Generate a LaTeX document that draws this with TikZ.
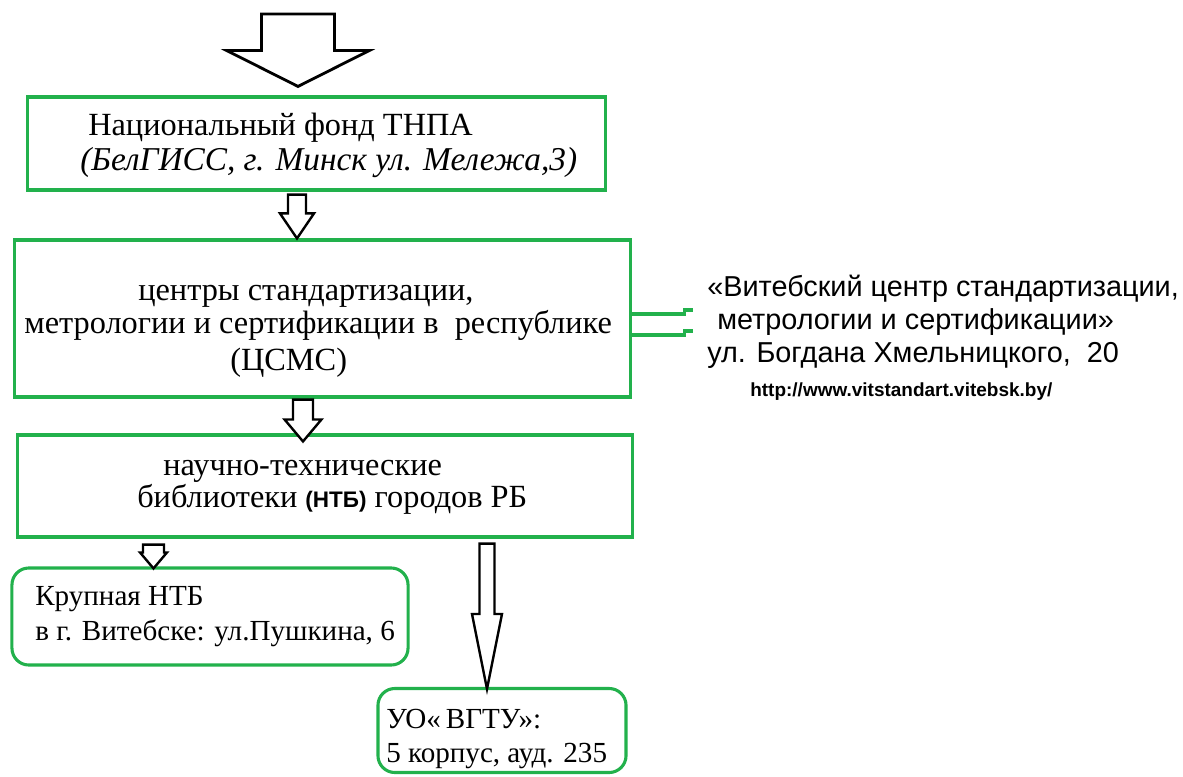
\documentclass[tikz,border=0pt]{standalone}
\usepackage{fontspec}
\setmainfont{Liberation Serif}
\newfontfamily\arialfont{Liberation Sans}
\usetikzlibrary{calc}
\definecolor{boxgreen}{RGB}{34,177,76}

% hollow block arrow pointing down: start, tip, half shaft, half head, head length
\newcommand{\fatdown}[5]{%
  \draw[hollow] ($(#1)+(-#3,0)$) -- ($(#2)+(-#3,-#5)$) -- ($(#2)+(-#4,-#5)$)
    -- (#2) -- ($(#2)+(#4,-#5)$) -- ($(#2)+(#3,-#5)$) -- ($(#1)+(#3,0)$) -- cycle;}

\begin{document}
\begin{tikzpicture}[x=0.025cm, y=-0.025cm,
    box/.style={draw=boxgreen, line width=2.2pt, inner sep=0pt},
    rbox/.style={box, rounded corners=12pt},
    hollow/.style={draw=black, fill=white, line width=1.7pt, line join=miter},
    link/.style={draw=boxgreen, line width=2.2pt},
    txt/.style={anchor=base west, inner sep=0pt, font=\fontsize{23}{28}\selectfont},
    stxt/.style={anchor=base west, inner sep=0pt, font=\fontsize{20.7}{25}\selectfont},
    atxt/.style={anchor=base west, inner sep=0pt, font=\arialfont\fontsize{20.5}{25}\selectfont}]
    \useasboundingbox (0,0) rectangle (1183,776);

    % boxes
    \node[box, minimum width=14.425cm, minimum height=2.325cm] (fond) at (316.5,143.5) {};
    \node[box, minimum width=15.375cm, minimum height=3.925cm] (csms) at (322.5,318.5) {};
    \node[box, minimum width=15.35cm, minimum height=2.55cm] (ntb) at (325,486) {};
    \node[rbox, minimum width=9.9cm, minimum height=2.425cm] (krup) at (210,616.5) {};
    \node[rbox, minimum width=6.2cm, minimum height=2.1cm] (vgtu) at (502,730.5) {};

    % texts
    \node[txt] (fond1) at (88,135) {Национальный фонд ТНПА};
    \node[txt, font=\fontsize{23.7}{28}\selectfont\itshape] (fond2) at (80,170)
      {(БелГИСС, г. Минск ул. Мележа,3)};
    \node[txt] (csms1) at (138,300) {центры стандартизации,};
    \node[txt] (csms2) at (24,333) {метрологии и сертификации в\ \ республике};
    \node[txt] (csms3) at (230,370) {(ЦСМС)};
    \node[txt] (ntb1) at (163,475) {научно-технические};
    \node[txt] (ntb2) at (137,507)
      {библиотеки {\arialfont\bfseries\fontsize{16}{19}\selectfont(НТБ)} городов РБ};
    \node[stxt] (krup1) at (35,605) {Крупная НТБ};
    \node[stxt] (krup2) at (35,640) {в г. Витебске: ул.Пушкина, 6};
    \node[stxt] (vgtu1) at (386,728) {УО«\,ВГТУ»:};
    \node[stxt] (vgtu2) at (386,762) {5 корпус, ауд. 235};
    \node[atxt] (vcs1) at (707,296) {«Витебский центр стандартизации,};
    \node[atxt] (vcs2) at (717,329) {метрологии и сертификации»};
    \node[atxt] (vcs3) at (707,362) {ул. Богдана Хмельницкого,\ \ 20};
    \node[atxt, font=\arialfont\bfseries\fontsize{13.5}{16}\selectfont] (vcs4) at (750,396)
      {http://www.vitstandart.vitebsk.by/};

    % arrows
    \coordinate (entry) at (298,14);
    \path (entry |- fond.north) ++(0,-9) coordinate (entrytip);
    \path (fond.south -| 297,0) ++(0,3) coordinate (fondout);
    \path (csms.north -| 297,0) coordinate (csmsin);
    \path (csms.south -| 303,0) ++(0,1) coordinate (csmsout);
    \path (ntb.north -| 303,0) ++(0,8) coordinate (ntbin);
    \path (ntb.south -| 153.5,0) ++(0,6) coordinate (ntbleft);
    \path (krup.north -| 153.5,0) ++(0,2) coordinate (krupin);
    \path (ntb.south -| 487,0) ++(0,5) coordinate (ntbright);
    \path (vgtu.north -| 487,0) ++(0,2) coordinate (vgtuin);

    \begin{scope}[hollow/.append style={line width=2pt}]
      \fatdown{entry}{entrytip}{36.5}{71.5}{36}
    \end{scope}
    \fatdown{fondout}{csmsin}{9}{17}{25}
    \fatdown{csmsout}{ntbin}{10}{18.5}{22}
    \fatdown{ntbleft}{krupin}{10.5}{13.5}{16}
    \fatdown{ntbright}{vgtuin}{7.5}{15}{75}

    % link to the Vitebsk centre
    \draw[link] ($(csms.east)+(0,-4.5)$) -- ++(53,0) -- ++(0,-4) -- ++(8,0);
    \draw[link] ($(csms.east)+(0,16.5)$) -- ++(53,0) -- ++(0,-4) -- ++(8,0);
\end{tikzpicture}
\end{document}
